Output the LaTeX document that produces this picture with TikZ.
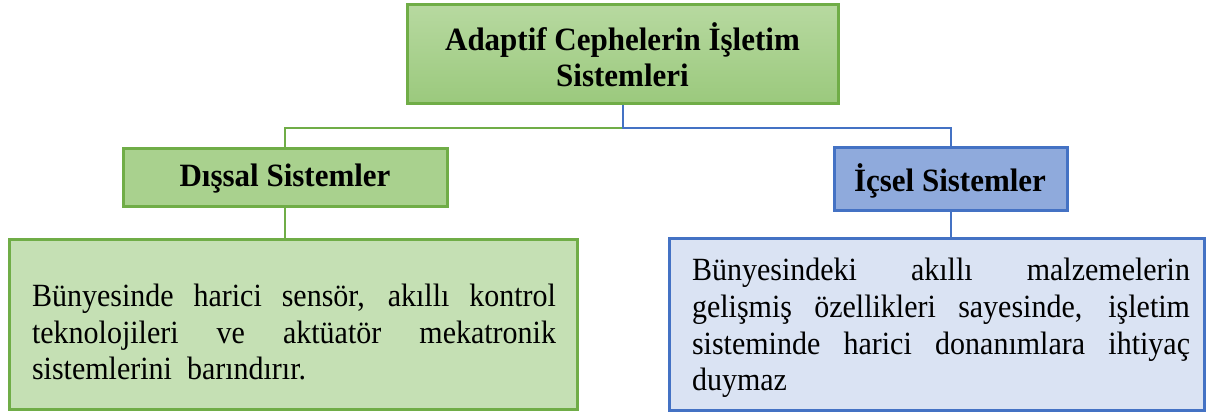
\documentclass[tikz,border=0pt]{standalone}
\usepackage{fontspec}
\setmainfont{Liberation Serif}
\hyphenpenalty=10000
\exhyphenpenalty=10000
\tolerance=9999
\definecolor{gborder}{HTML}{70AD47}
\definecolor{gfill}{HTML}{A9D18E}
\definecolor{gtop}{HTML}{B7D9A0}
\definecolor{gbot}{HTML}{9BC97D}
\definecolor{glight}{HTML}{C5E0B4}
\definecolor{bborder}{HTML}{4472C4}
\definecolor{bfill}{HTML}{8FAADC}
\definecolor{blight}{HTML}{DAE3F3}
\tikzset{
  gbox/.style={draw=gborder, line width=3pt, inner sep=0pt},
  bbox/.style={draw=bborder, line width=3pt, inner sep=0pt},
  headtxt/.style={font=\fontsize{31}{34.5}\selectfont\bfseries, align=center, inner sep=0pt, yscale=1.05, transform shape},
  bodytxt/.style={font=\fontsize{30}{34}\selectfont, align=justify, inner sep=0pt, yscale=1.08, transform shape},
  gline/.style={draw=gborder, line width=2pt},
  bline/.style={draw=bborder, line width=2pt}
}
\begin{document}
\begin{tikzpicture}[x=1pt,y=-1pt]
\useasboundingbox (0,0) rectangle (1208,412);
% boxes
\node[gbox, top color=gtop, bottom color=gbot, minimum width=431pt, minimum height=98pt] (top) at (622.5,54) {};
\node[gbox, fill=gfill, minimum width=324pt, minimum height=58pt] (dis) at (285,177) {};
\node[bbox, fill=bfill, minimum width=233pt, minimum height=63pt] (ic) at (950.5,178.5) {};
\node[gbox, fill=glight, minimum width=568pt, minimum height=170pt] (lowL) at (293,324) {};
\node[bbox, fill=blight, minimum width=535pt, minimum height=172pt] (lowR) at (936.5,324) {};
% texts
\node[headtxt] (topT) at (622.5,55) {Adaptif Cephelerin İşletim\\Sistemleri};
\node[headtxt] (disT) at (285,179) {Dışsal Sistemler};
\node[headtxt] (icT) at (950,180.5) {İçsel Sistemler};
\node[bodytxt, text width=524pt] (lowLT) at (294,332) {Bünyesinde harici sensör, akıllı kontrol\linebreak teknolojileri ve aktüatör mekatronik\linebreak sistemlerini~ barındırır.};
\node[bodytxt, text width=498pt] (lowRT) at (941,328) {Bünyesindeki akıllı malzemelerin\linebreak gelişmiş özellikleri sayesinde, işletim\linebreak sisteminde harici donanımlara ihtiyaç\linebreak duymaz};
% connectors
\coordinate (bus) at (622.5,128);
\draw[gline] (bus) -| (dis.north);
\draw[bline] (top.south) -- (bus) -| (ic.north);
\draw[gline] (dis.south) -- (dis.south |- lowL.north);
\draw[bline] (ic.south) -- (ic.south |- lowR.north);
\end{tikzpicture}
\end{document}
